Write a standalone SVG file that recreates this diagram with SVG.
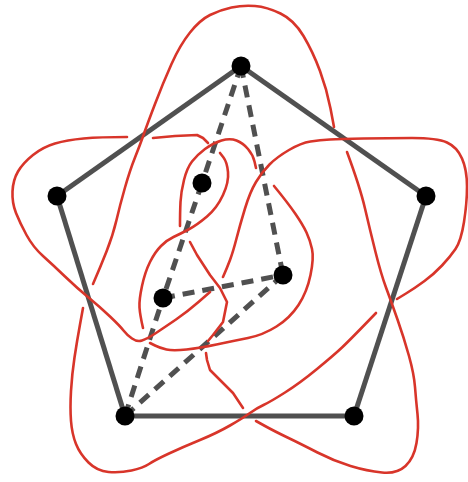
<svg xmlns="http://www.w3.org/2000/svg" width="468" height="482" viewBox="0 0 468 482">
<style>
.edge{stroke:#505050;stroke-width:5;fill:none;stroke-linecap:butt}
.dash{stroke:#505050;stroke-width:5;fill:none;stroke-dasharray:12 8}
.knot{stroke:#d8352a;stroke-width:2.6;fill:none;stroke-linejoin:round;stroke-linecap:round}
.node{fill:#000}
</style>
<rect width="468" height="482" fill="#fff"/>
<g id="connectors">
<line class="edge" x1="241" y1="66" x2="57" y2="196"/>
<line class="edge" x1="241" y1="66" x2="426" y2="196"/>
<line class="edge" x1="426" y1="196" x2="354" y2="416"/>
<line class="edge" x1="354" y1="416" x2="125" y2="416"/>
<line class="edge" x1="125" y1="416" x2="57" y2="196"/>
<line class="dash" x1="241" y1="66" x2="202" y2="183"/>
<line class="dash" x1="241" y1="66" x2="283" y2="275"/>
<line class="dash" x1="202" y1="183" x2="163" y2="298"/>
<line class="dash" x1="163" y1="298" x2="283" y2="275"/>
<line class="dash" x1="125" y1="416" x2="163" y2="298"/>
<line class="dash" x1="125" y1="416" x2="283" y2="275"/>
</g>
<g id="knot">
<path class="knot" d="M150,343 L155,345.5 Q160,348 166.5,349.5 Q173,351 186.5,349.5 Q200,348 216.5,344.5 Q233,341 248,338 Q263,335 276.5,326.5 Q290,318 298.5,305 Q307,292 310.5,275 Q314,258 312,249 Q310,240 306.5,232.5 Q303,225 295.5,214 Q288,203 274,186"/>
<path class="knot" d="M256,168 L254.5,161.5 Q253,155 248,149 Q243,143 236.5,140.5 Q230,138 221.5,140.5 Q213,143 205,149 Q197,155 192,161.5 Q187,168 184,180 Q181,192 180.5,202 Q180,212 180,226"/>
<polyline class="knot" points="190,242 197,255 210,275 220,288 227,302 223,322 213,335 208,341"/>
<polyline class="knot" points="206,353 207,360 210,370 222,382 233,393 243,408"/>
<path class="knot" d="M256,421 L265,426 Q274,431 287.5,437.5 Q301,444 317.5,452.5 Q334,461 350.5,466 Q367,471 382,472.5 Q397,474 405.5,466 Q414,458 416.5,443 Q419,428 417.5,414 Q416,400 415,387 Q414,374 409,356 Q404,338 397.5,319.5 Q391,301 386,287.5 Q381,274 375.5,252 Q370,230 365,208.5 Q360,187 347,152"/>
<path class="knot" d="M334,127 L330.5,108.5 Q327,90 320,71 Q313,52 303.5,36 Q294,20 280.5,13.5 Q267,7 255,6 Q243,5 231.5,7.5 Q220,10 210,15 Q200,20 190,32.5 Q180,45 171.5,64 Q163,83 155,104 Q147,125 143.5,135 Q140,145 135,157.5 Q130,170 125,187.5 Q120,205 116.5,220 Q113,235 106.5,251.5 Q100,268 93,284"/>
<path class="knot" d="M83,308 L80,324.5 Q77,341 74.5,357.5 Q72,374 71,391 Q70,408 71,421 Q72,434 76,444 Q80,454 88.5,462.5 Q97,471 108.5,472 Q120,473 131.5,470.5 Q143,468 149,464 Q155,460 169,453.5 Q183,447 200,440 Q217,433 230,425.5 Q243,418 250,413 Q257,408 263.5,405 Q270,402 285,392.5 Q300,383 317,369 Q334,355 342,347.5 Q350,340 376,313"/>
<path class="knot" d="M397,299 L406,293.5 Q415,288 424.5,281 Q434,274 442,265.5 Q450,257 455.5,249 Q461,241 464,222 Q467,203 467,186.5 Q467,170 462,158.5 Q457,147 447,142.5 Q437,138 412,138 Q387,138 363.5,138.5 Q340,139 330,139.5 Q320,140 310.5,141.5 Q301,143 289,150 Q277,157 269.5,164.5 Q262,172 256,182 Q250,192 245,208.5 Q240,225 236.5,238.5 Q233,252 230,260 Q227,268 223,277"/>
<path class="knot" d="M210,292 L198.5,302 Q187,312 176,319.5 Q165,327 156,333 Q147,339 142,340.5 Q137,342 132,338.5 Q127,335 123.5,330.5 Q120,326 110,316.5 Q100,307 88.5,297.5 Q77,288 65,276.5 Q53,265 43,256 Q33,247 26.5,235 Q20,223 16,213 Q12,203 12.5,191.5 Q13,180 18,171.5 Q23,163 33,155 Q43,147 55,143.5 Q67,140 83.5,138.5 Q100,137 127,137"/>
<polyline class="knot" points="153,138 175,136 197,135 203,138 208,143"/>
<path class="knot" d="M220,153 L223.5,157.5 Q227,162 228,172 Q229,182 223,195 Q217,208 207,216.5 Q197,225 188.5,229.5 Q180,234 173.5,237 Q167,240 161,246 Q155,252 150,262 Q145,272 142,286 Q139,300 139.5,307.5 Q140,315 143,328"/>
</g>
<g id="n-top"><circle class="node" cx="241" cy="66" r="9.5"/></g>
<g id="n-left"><circle class="node" cx="57" cy="196" r="9.5"/></g>
<g id="n-right"><circle class="node" cx="426" cy="196" r="9.5"/></g>
<g id="n-bl"><circle class="node" cx="125" cy="416" r="9.5"/></g>
<g id="n-br"><circle class="node" cx="354" cy="416" r="9.5"/></g>
<g id="n-i1"><circle class="node" cx="202" cy="183" r="9.5"/></g>
<g id="n-i2"><circle class="node" cx="283" cy="275" r="9.5"/></g>
<g id="n-i3"><circle class="node" cx="163" cy="298" r="9.5"/></g>
</svg>
